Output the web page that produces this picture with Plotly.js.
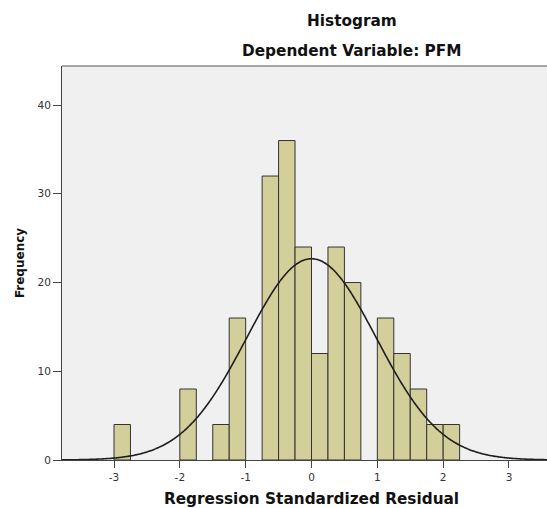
<!DOCTYPE html>
<html>
<head>
<meta charset="utf-8">
<script src="https://cdn.plot.ly/plotly-3.0.1.min.js"></script>
<style>
  html, body { margin: 0; padding: 0; overflow: hidden; background: #ffffff; }
  #chart { width: 572px; height: 508px; }
</style>
</head>
<body>
<div id="chart"></div>
<script>
// ---- Data ----
const binCenters = [-2.875, -1.875, -1.375, -1.125, -0.625, -0.375, -0.125, 0.125, 0.375, 0.625, 1.125, 1.375, 1.625, 1.875, 2.125];
const frequencies = [4, 8, 4, 16, 32, 36, 24, 12, 24, 20, 16, 12, 8, 4, 4];
const binWidth = 0.25;
const xTickValues = [-3, -2, -1, 0, 1, 2, 3];
const xTickLabels = ['-3', '-2', '-1', '0', '1', '2', '3'];
const yTickValues = [0, 10, 20, 30, 40];
const yTickLabels = ['0', '10', '20', '30', '40'];
// Normal curve parameters (SPSS overlay)
const curveMean = 0;
const curveStdDev = 0.985;
const totalN = frequencies.reduce((a, b) => a + b, 0);

const xMin = -3.79, xMax = 3.79;
const curveX = [];
const curveY = [];
for (let x = xMin; x <= xMax + 1e-9; x += 0.02) {
  const z = (x - curveMean) / curveStdDev;
  curveX.push(x);
  curveY.push(totalN * binWidth / (curveStdDev * Math.sqrt(2 * Math.PI)) * Math.exp(-0.5 * z * z));
}

const bars = {
  type: 'bar',
  x: binCenters,
  y: frequencies,
  width: binWidth,
  marker: { color: '#d3cf9a', line: { color: '#333333', width: 1 } },
  hoverinfo: 'x+y',
  showlegend: false
};

const curve = {
  type: 'scatter',
  mode: 'lines',
  x: curveX,
  y: curveY,
  line: { color: '#1e1e1e', width: 1.6, shape: 'spline' },
  hoverinfo: 'skip',
  showlegend: false
};

const titleFont = { family: 'DejaVu Sans', size: 15.3, color: '#111111', weight: 'bold' };
const tickFont = { family: 'DejaVu Sans', size: 10.5, color: '#333333' };

const layout = {
  width: 572,
  height: 508,
  margin: { l: 62, r: 11, t: 66, b: 48 },
  paper_bgcolor: '#ffffff',
  plot_bgcolor: '#f0f0f0',
  bargap: 0,
  xaxis: {
    range: [xMin, xMax],
    tickmode: 'array',
    tickvals: xTickValues,
    ticktext: xTickLabels,
    ticks: 'outside',
    ticklen: 7,
    tickwidth: 1,
    tickcolor: '#444444',
    showline: true,
    linecolor: '#444444',
    linewidth: 1,
    mirror: false,
    showgrid: false,
    zeroline: false,
    tickfont: tickFont,
    title: { text: 'Regression Standardized Residual', font: titleFont, standoff: 12 },
    automargin: false
  },
  yaxis: {
    range: [0, 44.4],
    tickmode: 'array',
    tickvals: yTickValues,
    ticktext: yTickLabels,
    ticks: 'outside',
    ticklen: 8,
    tickwidth: 1,
    tickcolor: '#444444',
    showline: true,
    linecolor: '#444444',
    linewidth: 1,
    mirror: false,
    showgrid: false,
    zeroline: false,
    tickfont: tickFont,
    title: { text: 'Frequency', font: { family: 'DejaVu Sans', size: 12, color: '#111111', weight: 'bold' }, standoff: 10 },
    automargin: false
  },
  shapes: [
    { type: 'line', xref: 'paper', yref: 'paper', x0: 0, x1: 1, y0: 1, y1: 1, line: { color: '#8a8a8a', width: 1.5 } }
  ],
  annotations: [
    { text: 'Histogram', xref: 'paper', yref: 'paper', x: 0.581, y: 1.114, xanchor: 'center', yanchor: 'middle', showarrow: false, font: titleFont },
    { text: 'Dependent Variable: PFM', xref: 'paper', yref: 'paper', x: 0.581, y: 1.038, xanchor: 'center', yanchor: 'middle', showarrow: false, font: titleFont }
  ]
};

Plotly.newPlot('chart', [bars, curve], layout, { displayModeBar: false, staticPlot: true });
</script>
</body>
</html>
